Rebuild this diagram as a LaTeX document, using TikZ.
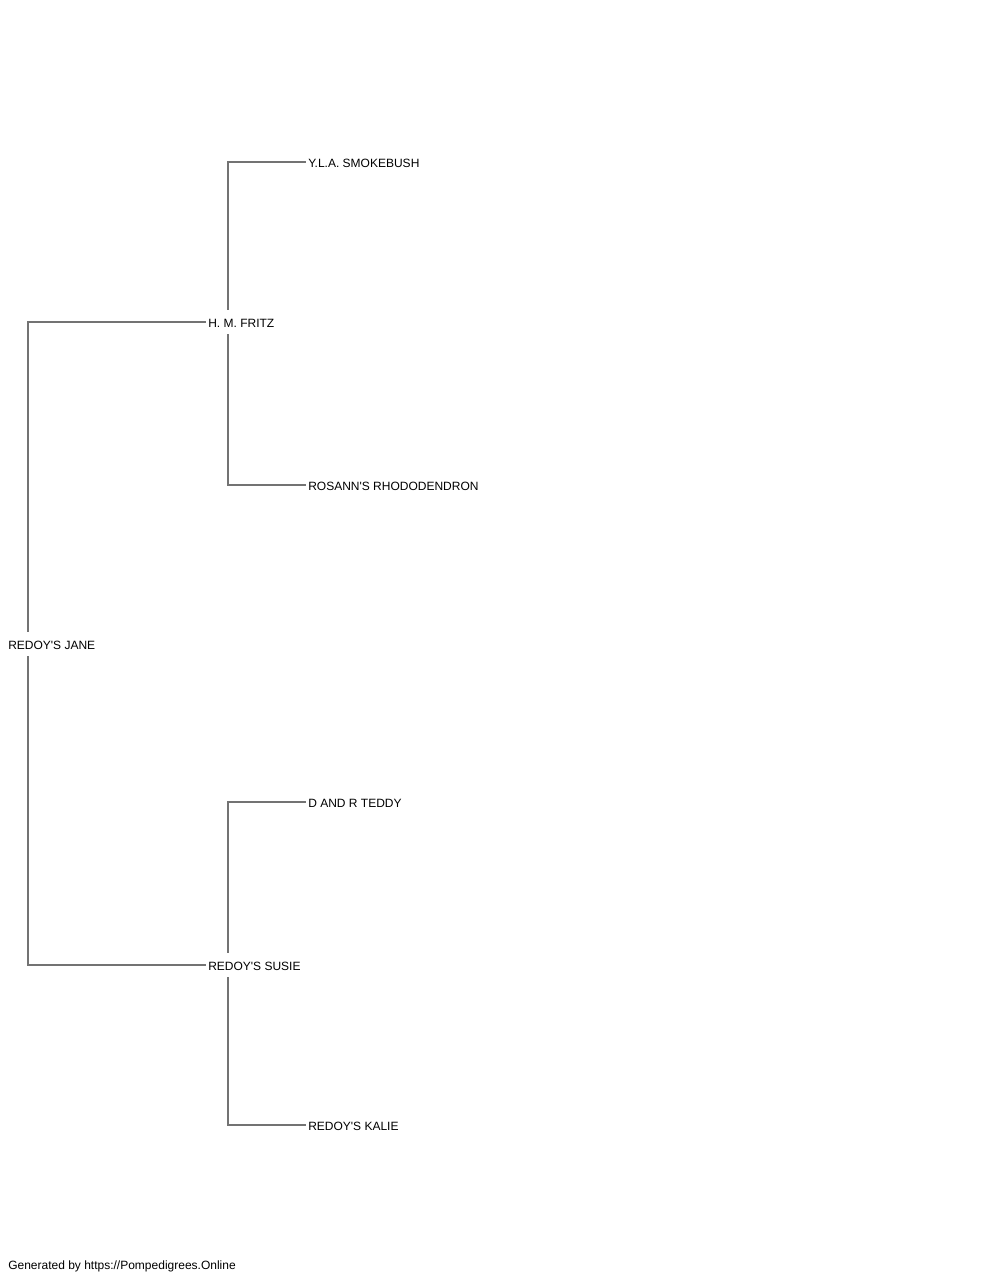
\documentclass[tikz,border=0pt]{standalone}
\usepackage{fontspec}
\setmainfont{Liberation Sans}
\begin{document}
\begin{tikzpicture}[x=0.75pt,y=-0.75pt,
  lbl/.style={anchor=west,inner xsep=1.5pt,inner ysep=0pt,minimum height=18pt,text height=8.4pt,text depth=0pt,font=\fontsize{9}{11}\selectfont,text=black},
  conn/.style={draw=black!55,line width=0.85pt}]
\useasboundingbox (0,0) rectangle (1000,1280);
\node[lbl] (jane) at (6,644) {REDOY\textquotesingle S JANE};
\node[lbl] (fritz) at (206,322) {H. M. FRITZ};
\node[lbl] (susie) at (206,965) {REDOY\textquotesingle S SUSIE};
\node[lbl] (smoke) at (306,162) {Y.L.A. SMOKEBUSH};
\node[lbl] (rosann) at (306,485) {ROSANN\textquotesingle S RHODODENDRON};
\node[lbl] (teddy) at (306,802) {D AND R TEDDY};
\node[lbl] (kalie) at (306,1125) {REDOY\textquotesingle S KALIE};
\node[lbl] (foot) at (6,1264) {Generated by https://Pompedigrees.Online};
\coordinate (jx) at (28,0);
\coordinate (fx) at (228,0);
\draw[conn] (jane.north -| jx) |- (fritz.west);
\draw[conn] (jane.south -| jx) |- (susie.west);
\draw[conn] (fritz.north -| fx) |- (smoke.west);
\draw[conn] (fritz.south -| fx) |- (rosann.west);
\draw[conn] (susie.north -| fx) |- (teddy.west);
\draw[conn] (susie.south -| fx) |- (kalie.west);
\end{tikzpicture}
\end{document}
